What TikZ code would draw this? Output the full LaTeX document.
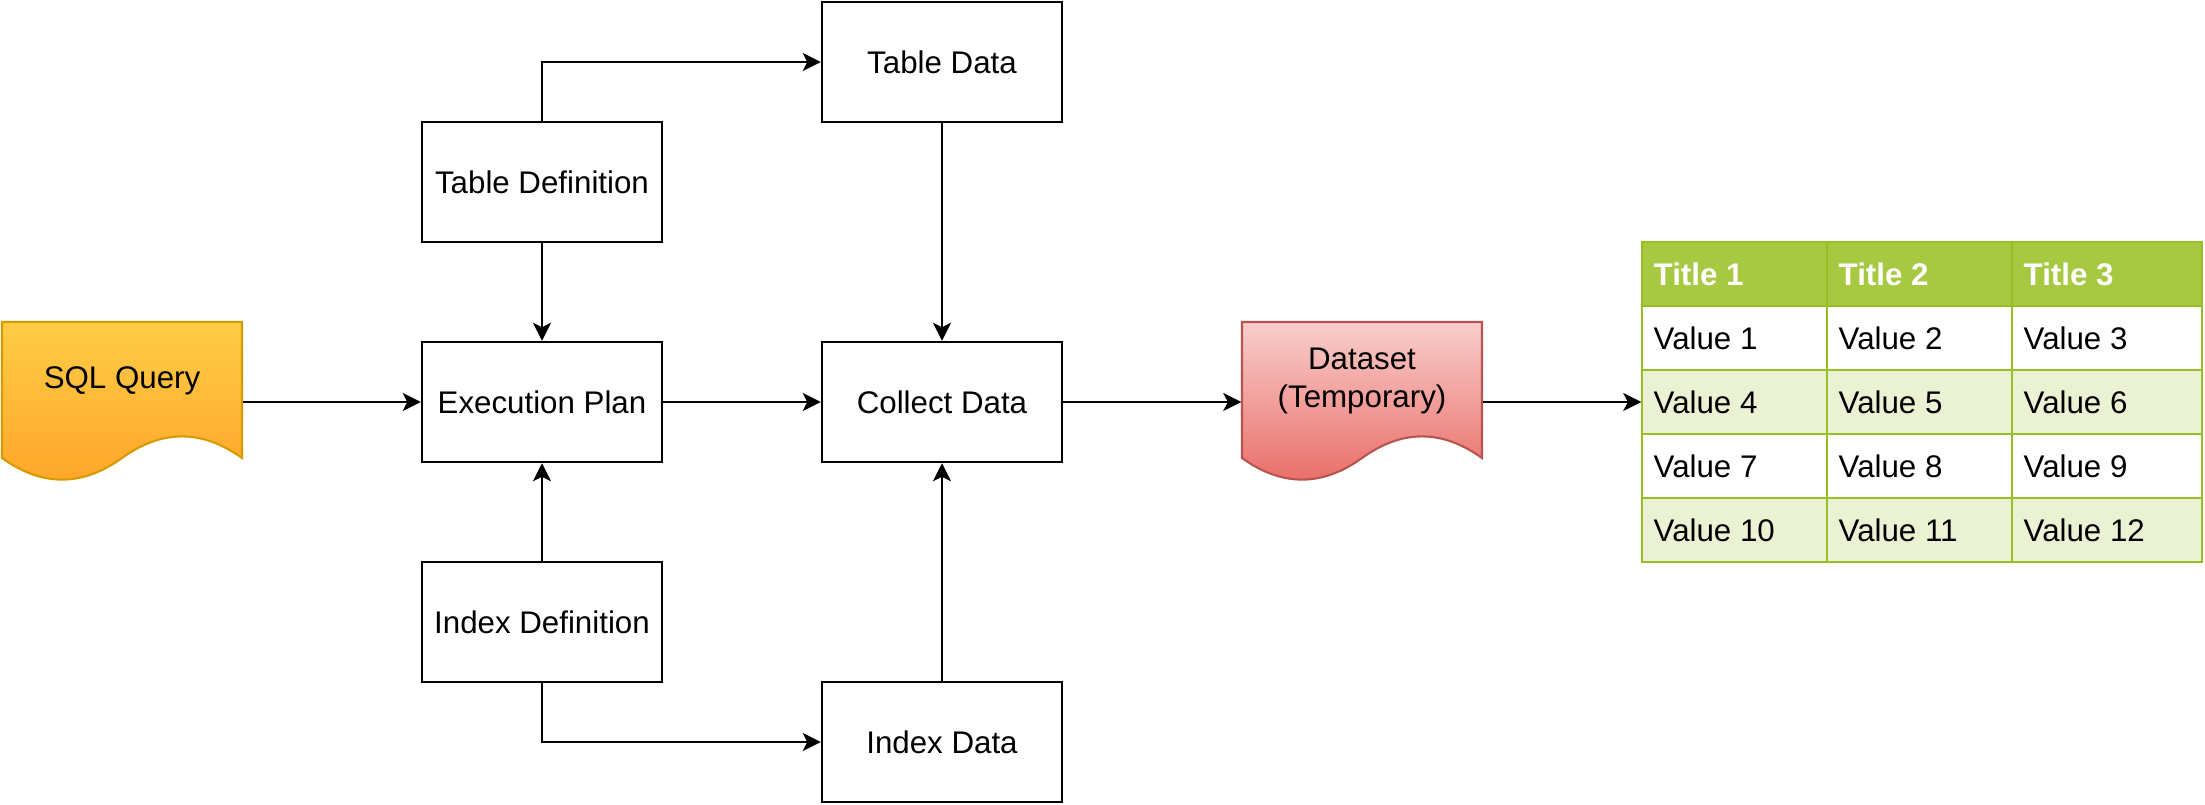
\documentclass[tikz,border=0pt]{standalone}
\usepackage{fontspec}
\setmainfont{Liberation Sans}
\usetikzlibrary{arrows.meta}
\definecolor{sqltop}{HTML}{FFCD45}
\definecolor{sqlbot}{HTML}{FFA52A}
\definecolor{sqlline}{HTML}{D79B00}
\definecolor{dstop}{HTML}{F8CECC}
\definecolor{dsbot}{HTML}{EA6B66}
\definecolor{dsline}{HTML}{B85450}
\definecolor{thead}{HTML}{A7C942}
\definecolor{tline}{HTML}{98BF21}
\definecolor{talt}{HTML}{EAF2D3}
\begin{document}
\begin{tikzpicture}[x=0.1mm,y=-0.1mm,
  font=\fontsize{8.9}{10.8}\selectfont,
  box/.style={draw=black, line width=0.7pt, minimum width=24mm, minimum height=12mm, inner sep=0pt, fill=white},
  conn/.style={line width=0.7pt, -{Stealth[length=1.8mm,width=1.8mm,inset=0.45mm]}},
  ghost/.style={inner sep=0pt, minimum width=24mm, minimum height=16mm},
  cell/.style={anchor=west, inner sep=0pt},
  hcell/.style={anchor=west, inner sep=0pt, text=white, font=\fontsize{8.9}{10.8}\selectfont\bfseries},
]
\useasboundingbox (0,0) rectangle (2205,804);

% SQL Query document shape
\shade[top color=sqltop, bottom color=sqlbot, draw=sqlline, line width=0.6pt]
  (2,322) -- (242,322) -- (242,458) .. controls (202,429.2) and (162,429.2) .. (122,458)
  .. controls (82,486.8) and (42,486.8) .. (2,458) -- cycle;
\node[ghost] (sql) at (122,402) {};
\node (sqltext) at (122,381) {SQL Query};

% Dataset document shape
\shade[top color=dstop, bottom color=dsbot, draw=dsline, line width=0.6pt]
  (1242,322) -- (1482,322) -- (1482,458) .. controls (1442,429.2) and (1402,429.2) .. (1362,458)
  .. controls (1322,486.8) and (1282,486.8) .. (1242,458) -- cycle;
\node[ghost] (dataset) at (1362,402) {};
\node[align=center] (dstext) at (1362,381) {Dataset\\(Temporary)};

% boxes
\node[box] (tdef) at (542,182) {Table Definition};
\node[box] (exec) at (542,402) {Execution Plan};
\node[box] (idef) at (542,622) {Index Definition};
\node[box] (tdata) at (942,62) {Table Data};
\node[box] (collect) at (942,402) {Collect Data};
\node[box] (idata) at (942,742) {Index Data};

% table
\fill[thead] (1642,242) rectangle (2202,306);
\fill[talt] (1642,370) rectangle (2202,434);
\fill[talt] (1642,498) rectangle (2202,562);
\foreach \yy in {306,370,434,498}
  \draw[tline, line width=0.7pt] (1642,\yy) -- (2202,\yy);
\foreach \xx in {1827,2012}
  \draw[tline, line width=0.7pt] (\xx,242) -- (\xx,562);
\draw[tline, line width=0.7pt] (1642,242) rectangle (2202,562);
\node[inner sep=0pt, minimum width=56mm, minimum height=32mm] (tbl) at (1922,402) {};

\node[hcell] (h1) at (1653,274) {Title 1};
\node[hcell] (h2) at (1838,274) {Title 2};
\node[hcell] (h3) at (2023,274) {Title 3};
\node[cell] (v1) at (1653,338) {Value 1};
\node[cell] (v2) at (1838,338) {Value 2};
\node[cell] (v3) at (2023,338) {Value 3};
\node[cell] (v4) at (1653,402) {Value 4};
\node[cell] (v5) at (1838,402) {Value 5};
\node[cell] (v6) at (2023,402) {Value 6};
\node[cell] (v7) at (1653,466) {Value 7};
\node[cell] (v8) at (1838,466) {Value 8};
\node[cell] (v9) at (2023,466) {Value 9};
\node[cell] (v10) at (1653,530) {Value 10};
\node[cell] (v11) at (1838,530) {Value 11};
\node[cell] (v12) at (2023,530) {Value 12};

% connectors
\draw[conn] (sql.east) -- (exec.west);
\draw[conn] (tdef.south) -- (exec.north);
\draw[conn] (idef.north) -- (exec.south);
\draw[conn] (exec.east) -- (collect.west);
\draw[conn] (tdef.north) |- (tdata.west);
\draw[conn] (tdata.south) -- (collect.north);
\draw[conn] (idef.south) |- (idata.west);
\draw[conn] (idata.north) -- (collect.south);
\draw[conn] (collect.east) -- (dataset.west);
\draw[conn] (dataset.east) -- (tbl.west);
\end{tikzpicture}
\end{document}
